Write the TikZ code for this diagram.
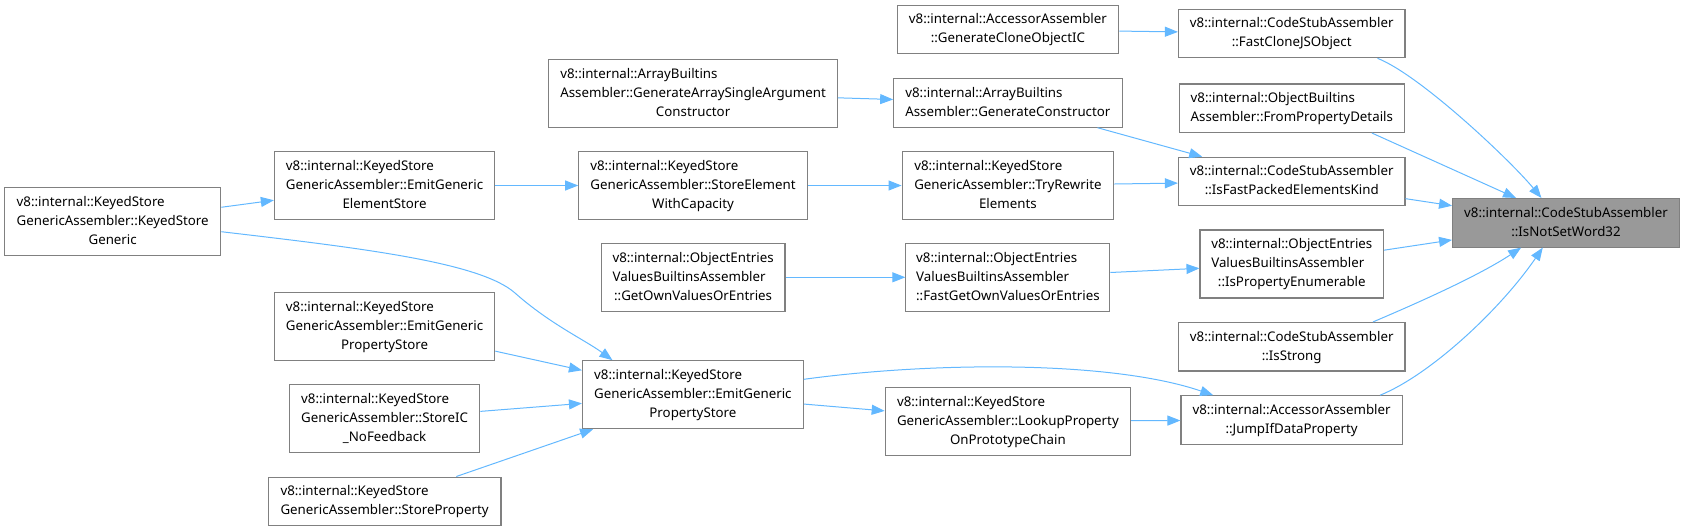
\documentclass[tikz,border=0pt]{standalone}
\usepackage{fontspec}
\setmainfont{Noto Sans}
\usetikzlibrary{arrows.meta,calc}
\definecolor{edgeblue}{HTML}{63B8FF}
\definecolor{boxgray}{HTML}{808080}
\definecolor{rootfill}{HTML}{999999}
\newcommand{\dtwo}[2]{\begin{tabular}{@{}c@{}}\multicolumn{1}{@{}l@{}}{#1}\\#2\end{tabular}}
\newcommand{\dthree}[3]{\begin{tabular}{@{}c@{}}\multicolumn{1}{@{}l@{}}{#1}\\\multicolumn{1}{@{}l@{}}{#2}\\#3\end{tabular}}
\begin{document}
\begin{tikzpicture}[x=1pt,y=-1pt,
  box/.style={draw=boxgray, line width=1.1pt, fill=white, inner xsep=2pt, inner ysep=0pt,
    minimum height=68pt, font=\fontsize{13.3}{19}\selectfont, text=black},
  boxtwo/.style={box, minimum height=48.5pt},
  edge/.style={draw=edgeblue, line width=1pt, -{Triangle[length=13pt,width=10pt]}}]
\useasboundingbox (0,0) rectangle (1685,531);

% column 1
\node[box, minimum width=216.2pt] (KSG) at (112.7,221.7) {\dthree{v8::internal::KeyedStore}{GenericAssembler::KeyedStore}{Generic}};
% column 2
\node[box, minimum width=220.4pt] (EGES) at (384.6,185.5) {\dthree{v8::internal::KeyedStore}{GenericAssembler::EmitGeneric}{ElementStore}};
\node[box, minimum width=220.4pt] (EGPSL) at (384.6,326.7) {\dthree{v8::internal::KeyedStore}{GenericAssembler::EmitGeneric}{PropertyStore}};
\node[box, minimum width=190.6pt] (SICNF) at (384.6,418.9) {\dthree{v8::internal::KeyedStore}{GenericAssembler::StoreIC}{\_NoFeedback}};
\node[boxtwo, minimum width=232.7pt] (SP) at (384.6,501.3) {\dtwo{v8::internal::KeyedStore}{GenericAssembler::StoreProperty}};
% column 3
\node[box, minimum width=288.6pt] (GASAC) at (693.1,93.5) {\dthree{v8::internal::ArrayBuiltins}{Assembler::GenerateArraySingleArgument}{Constructor}};
\node[box, minimum width=228.5pt] (SEWC) at (693,185.5) {\dthree{v8::internal::KeyedStore}{GenericAssembler::StoreElement}{WithCapacity}};
\node[box, minimum width=183.7pt] (GOVOE) at (693.1,277.3) {\dthree{v8::internal::ObjectEntries}{ValuesBuiltinsAssembler}{::GetOwnValuesOrEntries}};
\node[box, minimum width=220.8pt] (EGPS) at (692.9,394.7) {\dthree{v8::internal::KeyedStore}{GenericAssembler::EmitGeneric}{PropertyStore}};
% column 4
\node[boxtwo, minimum width=221.6pt] (GCOIC) at (1007.9,29.5) {\dtwo{v8::internal::AccessorAssembler}{::GenerateCloneObjectIC}};
\node[boxtwo, minimum width=228.4pt] (GC) at (1007.9,102.9) {\dtwo{v8::internal::ArrayBuiltins}{Assembler::GenerateConstructor}};
\node[box, minimum width=211.6pt] (TRE) at (1007.9,185.5) {\dthree{v8::internal::KeyedStore}{GenericAssembler::TryRewrite}{Elements}};
\node[box, minimum width=204pt] (FGOVOE) at (1007.9,277.3) {\dthree{v8::internal::ObjectEntries}{ValuesBuiltinsAssembler}{::FastGetOwnValuesOrEntries}};
\node[box, minimum width=245.4pt] (LPOPC) at (1007.9,421.3) {\dthree{v8::internal::KeyedStore}{GenericAssembler::LookupProperty}{OnPrototypeChain}};
% column 5
\node[boxtwo, minimum width=226.5pt] (FCJSO) at (1291.7,33.5) {\dtwo{v8::internal::CodeStubAssembler}{::FastCloneJSObject}};
\node[boxtwo, minimum width=224.6pt] (FPD) at (1291.8,108.2) {\dtwo{v8::internal::ObjectBuiltins}{Assembler::FromPropertyDetails}};
\node[boxtwo, minimum width=226.5pt] (IFPEK) at (1291.7,181.5) {\dtwo{v8::internal::CodeStubAssembler}{::IsFastPackedElementsKind}};
\node[box, minimum width=183.6pt] (IPE) at (1291.8,264) {\dthree{v8::internal::ObjectEntries}{ValuesBuiltinsAssembler}{::IsPropertyEnumerable}};
\node[boxtwo, minimum width=226.5pt] (IS) at (1291.7,346.7) {\dtwo{v8::internal::CodeStubAssembler}{::IsStrong}};
\node[boxtwo, minimum width=221.2pt] (JIDP) at (1291.6,420) {\dtwo{v8::internal::AccessorAssembler}{::JumpIfDataProperty}};
% column 6
\node[boxtwo, fill=rootfill, minimum width=226.8pt] (INSW) at (1566,222.8) {\dtwo{v8::internal::CodeStubAssembler}{::IsNotSetWord32}};

% straight edges
\draw[edge] (GCOIC) -- (FCJSO);
\draw[edge] (GASAC) -- (GC);
\draw[edge] (KSG) -- (EGES);
\draw[edge] (EGES) -- (SEWC);
\draw[edge] (SEWC) -- (TRE);
\draw[edge] (TRE) -- (IFPEK);
\draw[edge] (GC) -- (IFPEK);
\draw[edge] (IFPEK) -- (INSW);
\draw[edge] (IPE) -- (INSW);
\draw[edge] (GOVOE) -- (FGOVOE);
\draw[edge] (FGOVOE) -- (IPE);
\draw[edge] (EGPSL) -- (EGPS);
\draw[edge] (SICNF) -- (EGPS);
\draw[edge] (SP) -- (EGPS);
\draw[edge] (EGPS) -- (LPOPC);
\draw[edge] (LPOPC) -- (JIDP);
\draw[edge] ($(FPD.south west)+(192.9,0)$) -- ($(INSW.north west)+(64,0)$);
% curved edges
\draw[edge] ($(FCJSO.south west)+(199.6,0)$) .. controls (1420,75) and (1510,160) .. ($(INSW.north west)+(89.4,0)$);
\draw[edge] ($(IS.north west)+(195.1,0)$) .. controls (1420,302) and (1480,275) .. ($(INSW.south west)+(69.1,0)$);
\draw[edge] ($(JIDP.north west)+(199.6,0)$) .. controls (1430,375) and (1500,310) .. ($(INSW.south west)+(90.7,0)$);
\draw[edge] ($(KSG.east)+(0,10)$) .. controls (360,248) and (480,262) .. (515,293) .. controls (550,324) and (585,340) .. ($(EGPS.north west)+(30.5,0)$);
\draw[edge] ($(EGPS.east)+(0,-15.4)$) .. controls (930,362) and (1110,360) .. ($(JIDP.north west)+(32.8,0)$);
\end{tikzpicture}
\end{document}
